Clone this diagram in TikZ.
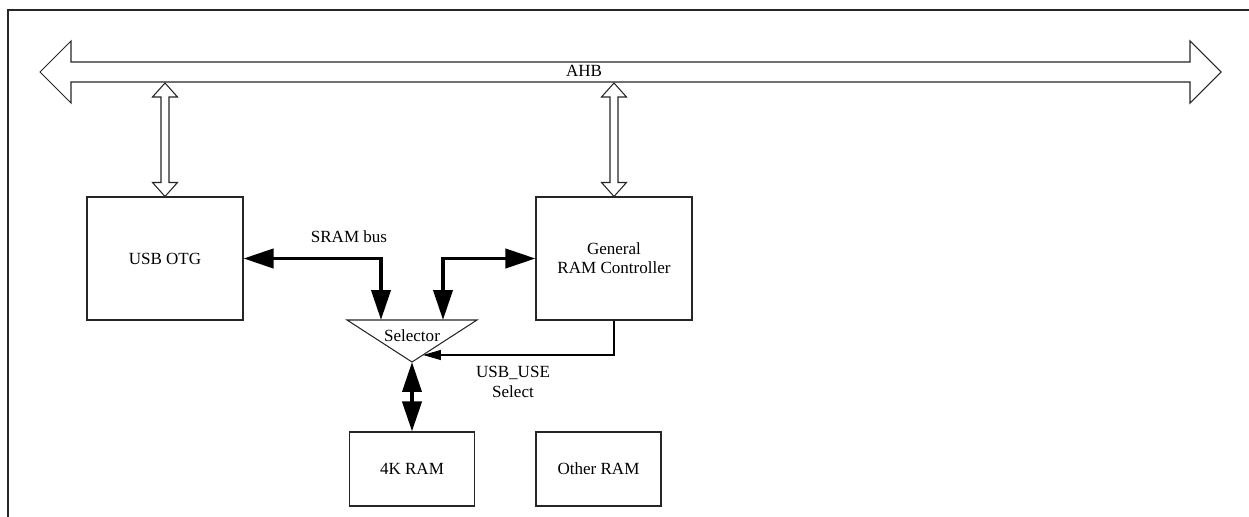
\documentclass[tikz,border=0pt]{standalone}
\usepackage{fontspec}
\setmainfont{Liberation Serif}
\newfontfamily\diagfont{Liberation Serif}
\usetikzlibrary{arrows.meta,calc}

\newcommand{\hollowarrow}[2]{%
\draw[hollow] (#1) -- ++(12.5,14) -- ++(-8.5,0) -- ($(#2)+(4,-14)$) -- ++(8.5,0) -- (#2)
  -- ++(-12.5,-14) -- ++(8.5,0) -- ($(#1)+(-4,14)$) -- ++(-8.5,0) -- cycle;}

\begin{document}
\begin{tikzpicture}[x=0.02cm,y=-0.02cm,
  every node/.style={font=\diagfont\fontsize{9.7}{11}\selectfont},
  block/.style={draw=black!85,line width=0.6pt,minimum width=3.12cm,minimum height=2.46cm,align=center},
  ramblock/.style={block,minimum width=2.5cm,minimum height=1.48cm},
  hollow/.style={draw=black!85,line width=0.6pt,fill=white},
  bus/.style={line width=0.08cm,{Triangle[length=0.6cm,width=0.38cm]}-{Triangle[length=0.6cm,width=0.38cm]}},
  ctl/.style={line width=0.6pt,-{Triangle[length=0.36cm,width=0.2cm]}}]
\useasboundingbox (0,0) rectangle (1249,517);
\draw[black!85,line width=0.6pt] (8,517) -- (8,10) -- (1249,10);
% AHB bus
\draw[hollow] (40,72) -- (71,41) -- (71,62) -- (1190,62) -- (1190,41) -- (1221,72)
  -- (1190,103) -- (1190,82) -- (71,82) -- (71,103) -- cycle;
\node (ahb) at (584,71) {AHB};
\coordinate (ahbbot) at (600,83);

\node[block] (usb) at (165,258.5) {USB OTG};
\node[block] (grc) at (614,258.5) {General\\RAM Controller};
\node[ramblock] (ram4k) at (412,469) {4K RAM};
\node[ramblock] (oram) at (598.5,469) {Other RAM};

\hollowarrow{usb.north |- ahbbot}{usb.north}
\hollowarrow{grc.north |- ahbbot}{grc.north}

% selector
\coordinate (selL) at (347,320);
\coordinate (selR) at (477,320);
\coordinate (selT) at (412,362);
\draw[black!85,line width=0.6pt] (selL) -- (selR) -- (selT) -- cycle;
\node (sel) at (412,336) {Selector};
\coordinate (selA) at (381,320);
\coordinate (selB) at (443,320);
\coordinate (selC) at (423,355);

\draw[bus] (usb.east) -| (selA);
\draw[bus] (grc.west) -| (selB);
\draw[bus] (selT) -- (ram4k.north);
\draw[ctl] (grc.south) |- (selC);
\node at (349,237) {SRAM bus};
\node[align=center] at (513,382) {USB\_USE\\Select};
\end{tikzpicture}
\end{document}
